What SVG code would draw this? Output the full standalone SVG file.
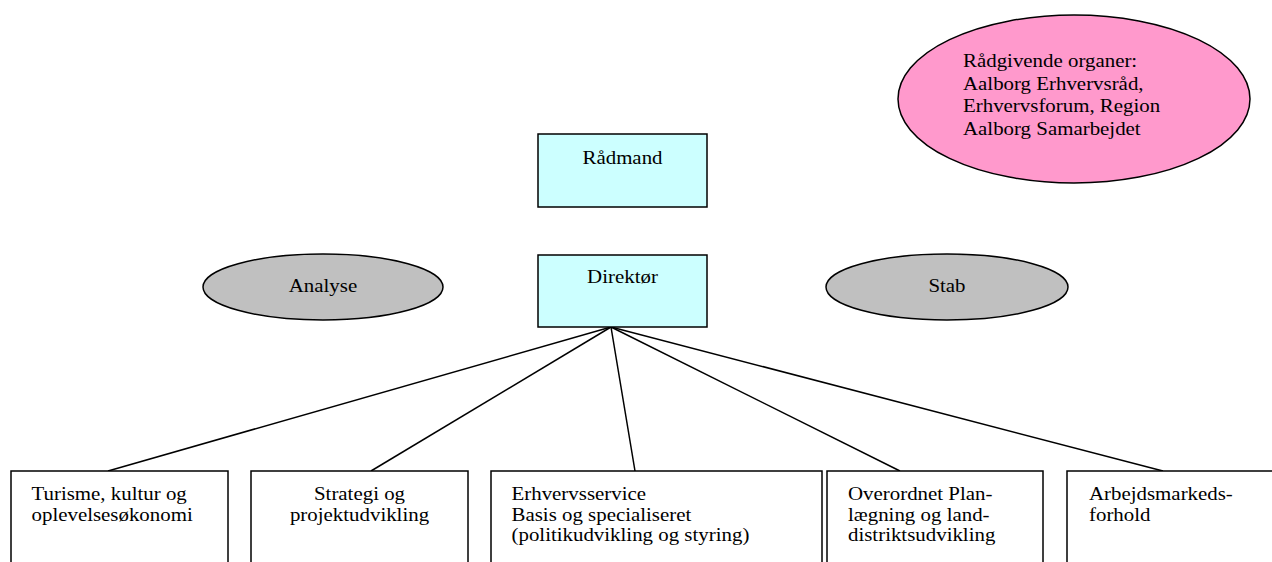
<svg xmlns="http://www.w3.org/2000/svg" width="1272" height="562" viewBox="0 0 1272 562">
  <style>
    text { font-family: "Liberation Serif", "Times New Roman", serif; font-size: 18.5px; fill: #000; }
    .box { fill: #fff; stroke: #000; stroke-width: 1.5; }
    .lead { fill: #ccffff; stroke: #000; stroke-width: 1.5; }
    .oval { fill: #c0c0c0; stroke: #000; stroke-width: 1.5; }
    .advice { fill: #ff99cc; stroke: #000; stroke-width: 1.5; }
    .link { stroke: #000; stroke-width: 1.5; fill: none; }
    .mid { text-anchor: middle; }
  </style>
  <rect width="1272" height="562" fill="#fff"/>

  <!-- reporting lines from the director to the departments -->
  <g id="connectors">
    <line class="link" x1="611" y1="327" x2="108" y2="471"/>
    <line class="link" x1="611" y1="327" x2="371" y2="471"/>
    <line class="link" x1="611" y1="327" x2="635" y2="471"/>
    <line class="link" x1="611" y1="327" x2="900" y2="471"/>
    <line class="link" x1="611" y1="327" x2="1163" y2="471"/>
  </g>

  <!-- labels use a slightly wide serif: 18.5px glyphs stretched 1.13x horizontally -->
  <g id="raadgivende">
    <ellipse class="advice" cx="1074" cy="99" rx="176" ry="84"/>
    <text transform="translate(963 67) scale(1.13 1)">Rådgivende organer:</text>
    <text transform="translate(963 89.5) scale(1.13 1)">Aalborg Erhvervsråd,</text>
    <text transform="translate(963 112) scale(1.13 1)">Erhvervsforum, Region</text>
    <text transform="translate(963 134.5) scale(1.13 1)">Aalborg Samarbejdet</text>
  </g>

  <g id="raadmand">
    <rect class="lead" x="538" y="134" width="169" height="73"/>
    <text class="mid" transform="translate(622.5 164) scale(1.13 1)">Rådmand</text>
  </g>

  <g id="direktoer">
    <rect class="lead" x="538" y="255" width="169" height="72"/>
    <text class="mid" transform="translate(622.5 283) scale(1.13 1)">Direktør</text>
  </g>

  <g id="analyse">
    <ellipse class="oval" cx="323" cy="287" rx="120" ry="33"/>
    <text class="mid" transform="translate(323 292) scale(1.13 1)">Analyse</text>
  </g>

  <g id="stab">
    <ellipse class="oval" cx="947" cy="287" rx="121" ry="33"/>
    <text class="mid" transform="translate(947 292) scale(1.13 1)">Stab</text>
  </g>

  <g id="turisme">
    <rect class="box" x="11" y="471" width="217" height="110"/>
    <text transform="translate(31.5 500) scale(1.13 1)">Turisme, kultur og</text>
    <text transform="translate(31.5 520.5) scale(1.13 1)">oplevelsesøkonomi</text>
  </g>

  <g id="strategi">
    <rect class="box" x="251" y="471" width="217" height="110"/>
    <text class="mid" transform="translate(359.5 500) scale(1.13 1)">Strategi og</text>
    <text class="mid" transform="translate(359.5 520.5) scale(1.13 1)">projektudvikling</text>
  </g>

  <g id="erhvervsservice">
    <rect class="box" x="491" y="471" width="331" height="110"/>
    <text transform="translate(511.5 500) scale(1.13 1)">Erhvervsservice</text>
    <text transform="translate(511.5 520.5) scale(1.13 1)">Basis og specialiseret</text>
    <text transform="translate(511.5 541) scale(1.13 1)">(politikudvikling og styring)</text>
  </g>

  <g id="planlaegning">
    <rect class="box" x="827" y="471" width="216" height="110"/>
    <text transform="translate(848 500) scale(1.13 1)">Overordnet Plan-</text>
    <text transform="translate(848 520.5) scale(1.13 1)">lægning og land-</text>
    <text transform="translate(848 541) scale(1.13 1)">distriktsudvikling</text>
  </g>

  <g id="arbejdsmarked">
    <rect class="box" x="1067" y="471" width="230" height="110"/>
    <text transform="translate(1089 500) scale(1.13 1)">Arbejdsmarkeds-</text>
    <text transform="translate(1089 520.5) scale(1.13 1)">forhold</text>
  </g>
</svg>
